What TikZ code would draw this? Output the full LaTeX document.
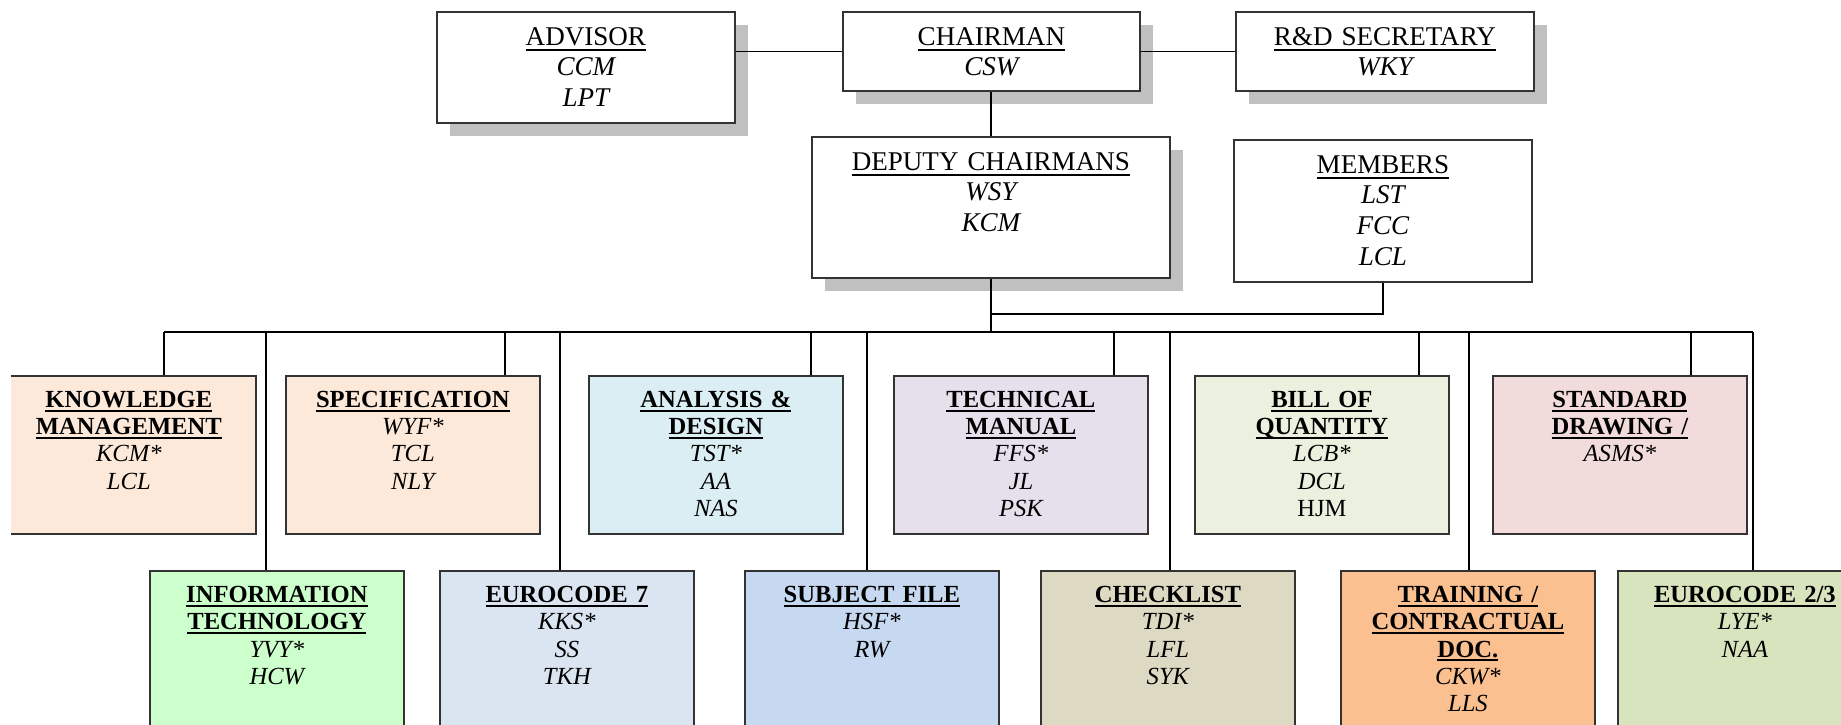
\documentclass[tikz,border=0pt]{standalone}
\usepackage{fontspec}
\setmainfont{Liberation Serif}
\usetikzlibrary{positioning, shadows}

\definecolor{shadowgray}{HTML}{C0C0C0}
\definecolor{kmfill}{HTML}{FDE9D9}
\definecolor{adfill}{HTML}{DAEEF3}
\definecolor{tmfill}{HTML}{E5E0EC}
\definecolor{boqfill}{HTML}{EBF1DE}
\definecolor{sdfill}{HTML}{F2DCDB}
\definecolor{itfill}{HTML}{CCFFCC}
\definecolor{ecfill}{HTML}{DBE5F1}
\definecolor{sffill}{HTML}{C6D9F1}
\definecolor{clfill}{HTML}{DDD9C3}
\definecolor{trfill}{HTML}{FAC090}
\definecolor{ecbfill}{HTML}{D7E4BD}

\newcommand{\topsize}{\fontsize{7.7}{8.7}\selectfont}
\newcommand{\lowsize}{\fontsize{7}{7.7}\selectfont}
% underlined headings: thick rule on top boxes, thin bold on departments
\newcommand{\hd}[1]{\leavevmode\setbox0\hbox{#1}\dp0=0pt\vtop{\box0\kern.9pt\hrule height .75pt}}
\newcommand{\hdb}[1]{\leavevmode\setbox0\hbox{\bfseries #1}\dp0=0pt\vtop{\box0\kern.6pt\hrule height .45pt}}

\begin{document}
\begin{tikzpicture}[
    x=0.1mm, y=-0.1mm,
    unit/.style={rectangle, draw=black!80, line width=.5pt, anchor=north west,
                 inner sep=0pt, align=center},
    headbox/.style={unit, fill=white, font=\topsize, text height=3.35mm},
    shadowed/.style={headbox, drop shadow={shadow xshift=1.3mm, shadow yshift=-1.3mm,
                     fill=shadowgray, opacity=1}},
    dept/.style={unit, font=\lowsize, text width=25.4mm, text height=3.2mm},
    deptup/.style={dept, text depth=12.6mm},
    deptlow/.style={dept, text depth=13.8mm},
    link/.style={line width=.45pt}
]
  \useasboundingbox (0,0) rectangle (1841,725);
  \clip (11,0) rectangle (1841,725);

  % board
  \node[shadowed, text width=29.8mm, text depth=7.75mm] (adv) at (436,11) {\hd{ADVISOR}\\\itshape CCM\\LPT};
  \node[shadowed, text width=29.7mm, text depth=4.55mm] (chair) at (842,11) {\hd{CHAIRMAN}\\\itshape CSW};
  \node[shadowed, text width=29.8mm, text depth=4.55mm] (sec) at (1235,11) {\hd{R\&D SECRETARY}\\\itshape WKY};
  \node[shadowed, text width=35.8mm, text depth=10.75mm] (dep) at (811,136) {\hd{DEPUTY CHAIRMANS}\\\itshape WSY\\KCM};
  \node[headbox, text width=29.8mm, text depth=10.85mm] (mem) at (1233,139) {\hd{MEMBERS}\\\itshape LST\\FCC\\LCL};

  % departments, upper row
  \node[deptup, fill=kmfill] (km) at (1,375) {\hdb{KNOWLEDGE}\\\hdb{MANAGEMENT}\\\itshape KCM*\\LCL};
  \node[deptup, fill=kmfill] (spec) at (285,375) {\hdb{SPECIFICATION}\\\itshape WYF*\\TCL\\NLY};
  \node[deptup, fill=adfill] (ad) at (588,375) {\hdb{ANALYSIS \&}\\\hdb{DESIGN}\\\itshape TST*\\AA\\NAS};
  \node[deptup, fill=tmfill] (tm) at (893,375) {\hdb{TECHNICAL}\\\hdb{MANUAL}\\\itshape FFS*\\JL\\PSK};
  \node[deptup, fill=boqfill] (boq) at (1194,375) {\hdb{BILL OF}\\\hdb{QUANTITY}\\\itshape LCB*\\DCL\\\upshape HJM};
  \node[deptup, fill=sdfill] (sd) at (1492,375) {\hdb{STANDARD}\\\hdb{DRAWING /}\\\itshape ASMS*};

  % departments, lower row
  \node[deptlow, fill=itfill] (it) at (149,570) {\hdb{INFORMATION}\\\hdb{TECHNOLOGY}\\\itshape YVY*\\HCW};
  \node[deptlow, fill=ecfill] (ec7) at (439,570) {\hdb{EUROCODE 7}\\\itshape KKS*\\SS\\TKH};
  \node[deptlow, fill=sffill] (sf) at (744,570) {\hdb{SUBJECT FILE}\\\itshape HSF*\\RW};
  \node[deptlow, fill=clfill] (cl) at (1040,570) {\hdb{CHECKLIST}\\\itshape TDI*\\LFL\\SYK};
  \node[deptlow, fill=trfill] (tr) at (1340,570) {\hdb{TRAINING /}\\\hdb{CONTRACTUAL}\\\hdb{DOC.}\\\itshape CKW*\\LLS};
  \node[deptlow, fill=ecbfill] (ec23) at (1617,570) {\hdb{EUROCODE 2/3}\\\itshape LYE*\\NAA};

  % connectors
  \draw[link] (chair.west) -- (chair.west -| adv.east);
  \draw[link] (chair.east) -- (sec.west);
  \draw[link] (dep.north) -- (dep.north |- chair.south);
  \draw[link] (mem.south) |- ([yshift=-3.5mm]dep.south);
  \foreach \x/\n in {164/km, 505/spec, 811/ad, 1114/tm, 1419/boq, 1691/sd,
                     266/it, 560/ec7, 867/sf, 1170/cl, 1469/tr, 1753/ec23} {
    \coordinate (t\n) at (\x,332);
    \draw[link] (t\n) -- (t\n |- \n.north);
  }
  \draw[link] (tkm) -- (tec23);
  \draw[link] (dep.south) -- (dep.south |- tkm);
\end{tikzpicture}
\end{document}
